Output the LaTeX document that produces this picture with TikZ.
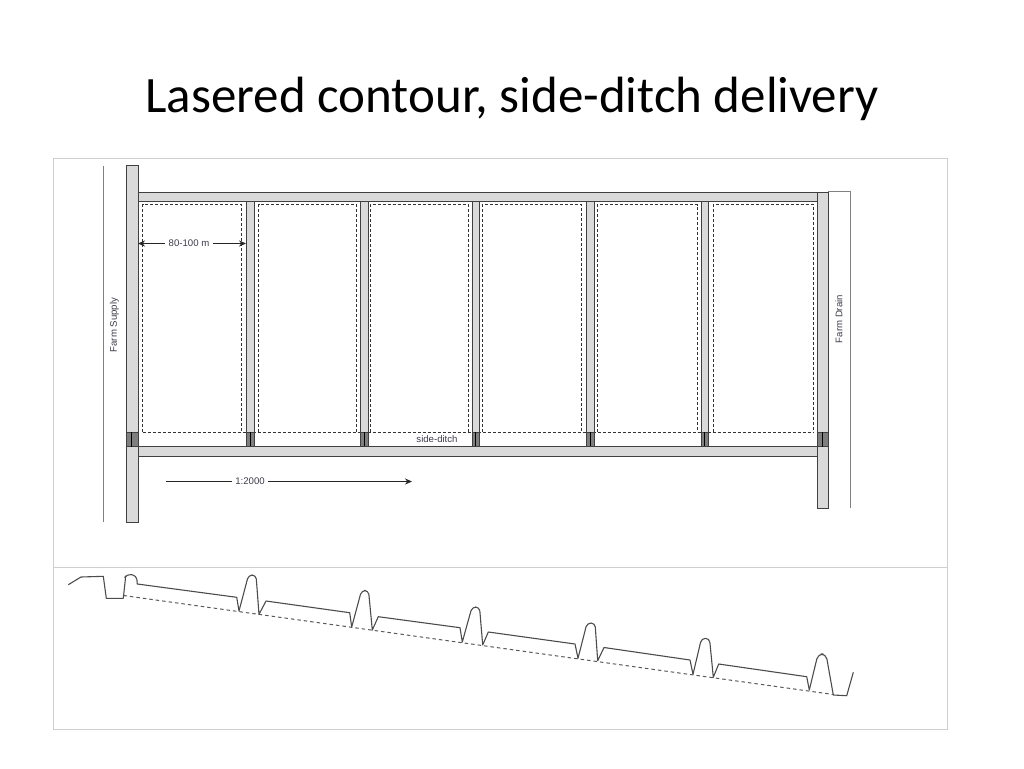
\documentclass[tikz,border=0pt]{standalone}
\usepackage{xcolor}
\usepackage{fontspec}
\setmainfont{Carlito}
\newfontfamily\labelfont{Liberation Sans}
\usetikzlibrary{arrows.meta}
\definecolor{framegray}{HTML}{CFCFCF}
\definecolor{bankgray}{HTML}{DADADA}
\definecolor{gategray}{HTML}{7F7F7F}
\definecolor{linegray}{HTML}{404040}
\definecolor{labelgray}{HTML}{3F3A4A}
\tikzset{
  bank/.style={draw=linegray, fill=bankgray, line width=1pt},
  gate/.style={draw=linegray, fill=gategray, line width=0.8pt},
  bay/.style={draw=black!80, dash pattern=on 3pt off 2pt, line width=0.8pt},
  subsoil/.style={draw=black!65, dash pattern=on 3.5pt off 3pt, line width=1pt},
  soil/.style={draw=black!70, line width=1.1pt, line join=round},
  outer/.style={draw=black!50, line width=1.2pt},
  plainlabel/.style={font=\labelfont\fontsize{9.6}{11}\selectfont, text=labelgray, inner sep=0pt},
  dimline/.style={draw=black!85, line width=0.8pt, -{Stealth[length=7pt,width=6pt]}}
}
\begin{document}
\begin{tikzpicture}[x=1pt,y=-1pt]
\useasboundingbox (0,0) rectangle (1024,768);
\node[font=\fontsize{51}{54}\selectfont, inner sep=0pt] (title) at (512,98.5) {Lasered contour, side-ditch delivery};
% frame
\draw[framegray, line width=0.9pt] (53,158) rectangle (947,729);
\draw[framegray, line width=0.9pt] (53,567.5) -- (947,567.5);
% bays
\foreach \xa/\xb in {142.5/241.5,258.5/356.5,370/468,482/581.5,597/697,713/813.5}
  \draw[bay] (\xa,432) -- (\xa,204.5) -- (\xb,204.5) -- (\xb,432);
\draw[bay] (142.5,432) -- (813.5,432);
% outer lines
\draw[outer] (103.5,166) -- (103.5,522);
\draw[outer] (828,191.5) -- (850.5,191.5) -- (850.5,508);
% banks
\foreach \xa/\xb in {246.5/254.5,360/368,472/479.5,586/594,701/708.5}{
  \draw[bank] (\xa,201) rectangle (\xb,432);
  \draw[gate] (\xa,432) rectangle (\xb,446.5);
  \draw[black, line width=1pt] ({(\xa+\xb)/2},432) -- ({(\xa+\xb)/2},446.5);
}
\draw[bank] (138,192) rectangle (818,201);
\draw[bank] (138,446.5) rectangle (818,456.5);
\draw[bank] (126.5,165) rectangle (138,522);
\draw[bank] (817.5,192) rectangle (828.5,508);
\draw[gate] (126.5,432) rectangle (138,446.5);
\draw[black, line width=1pt] (131.5,432) -- (131.5,446.5);
\draw[gate] (817.5,432) rectangle (828.5,446.5);
\draw[black, line width=1pt] (822.5,432) -- (822.5,446.5);
% labels
\node[plainlabel, rotate=90] (supply) at (114.5,325) {Farm Supply};
\node[plainlabel, rotate=90] (drain) at (839,319) {Farm Drain};
\node[plainlabel] (ditch) at (437,439) {side-ditch};
\node[plainlabel] (width) at (189,243.5) {80-100 m};
\node[plainlabel] (slope) at (250,481.5) {1:2000};
\coordinate (widthL) at (138,243.5);
\coordinate (widthR) at (246,243.5);
\coordinate (slopeL) at (166,481.5);
\coordinate (slopeR) at (412,481.5);
\draw[dimline] (width.west) ++(-4,0) -- (widthL);
\draw[dimline] (width.east) ++(4,0) -- (widthR);
\draw[draw=black!85, line width=0.8pt] (slope.west) ++(-3,0) -- (slopeL);
\draw[dimline] (slope.east) ++(3,0) -- (slopeR);
% section
\draw[subsoil] (123.5,595.5) -- (833.5,694.5);
\draw[soil] (68.3,584.7) -- (81,577) -- (103.3,576.3) -- (106.3,598.3) -- (123.3,598.3) -- (125.7,576)
  [rounded corners=4pt] -- (127,574) -- (136.5,575.5) [sharp corners] -- (137.3,584) -- (236.7,597.3) -- (239,611)
  [rounded corners=4pt] -- (248.5,575) -- (256,575) [sharp corners] -- (259,614.3) -- (266,601) -- (349.7,612.7) -- (351.7,627)
  [rounded corners=4pt] -- (361.5,590.5) -- (368.5,590.5) [sharp corners] -- (372.3,630) -- (378.3,616.7) -- (460,627.7) -- (462.3,642)
  [rounded corners=4pt] -- (472,607) -- (479.5,607) [sharp corners] -- (482.7,645) -- (488.3,632) -- (575,644) -- (578,658.3)
  [rounded corners=4pt] -- (587,623) -- (595,623) [sharp corners] -- (597.7,660.7) -- (604,647.5) -- (690,660) -- (693,674.3)
  [rounded corners=4pt] -- (701.5,638.3) -- (709.5,638.3) [sharp corners] -- (713.3,677.3) -- (718.7,664) -- (806.7,676.7) -- (809.3,690)
  [rounded corners=5pt] -- (818,654) -- (826,654) [sharp corners] -- (833.3,695) -- (846.7,695.7) -- (853.3,672.3);
\end{tikzpicture}
\end{document}
